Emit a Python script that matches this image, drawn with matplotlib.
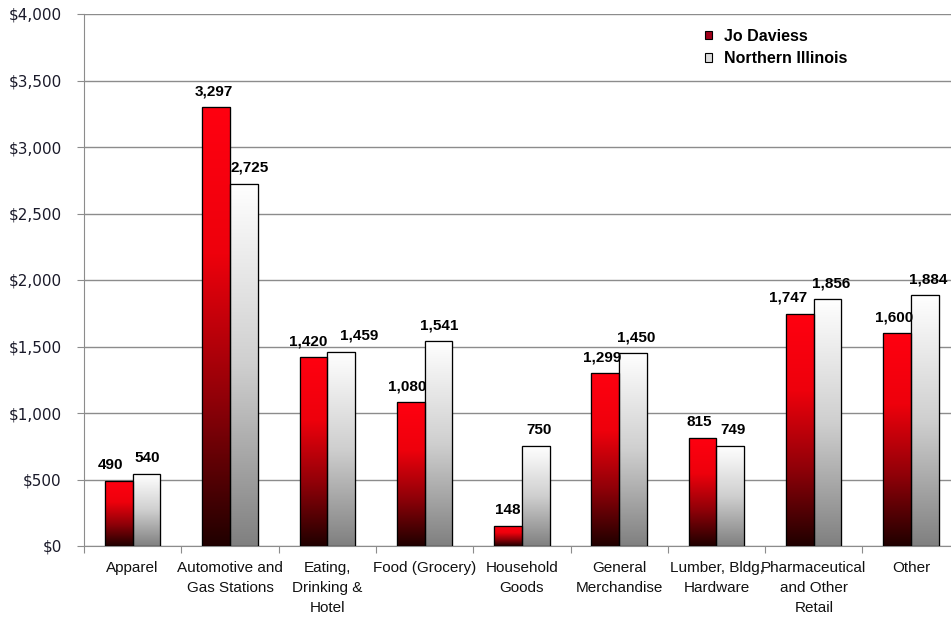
import numpy as np
import matplotlib
matplotlib.use("Agg")
import matplotlib.pyplot as plt
from matplotlib.colors import LinearSegmentedColormap
from matplotlib.ticker import FuncFormatter, FixedLocator

# data
categories = ["Apparel", "Automotive and\nGas Stations", "Eating,\nDrinking &\nHotel",
              "Food (Grocery)", "Household\nGoods", "General\nMerchandise",
              "Lumber, Bldg,\nHardware", "Pharmaceutical\nand Other\nRetail", "Other"]
jo_daviess = [490, 3297, 1420, 1080, 148, 1299, 815, 1747, 1600]
northern_il = [540, 2725, 1459, 1541, 750, 1450, 749, 1856, 1884]

# horizontal nudge of value labels (pixels), like Excel spreads them to avoid overlap
nudge_jo = [-8, -2, -5, -3, 0, -3, -3, -12, -3]
nudge_ni = [1, 6, 18, 1, 3, 3, 3, 4, 3]

fig = plt.figure(figsize=(9.51, 6.17), dpi=100)
ax = fig.add_axes([84 / 951, 1 - 546 / 617, 875.7 / 951, 532 / 617])

x = np.arange(len(categories))
w = 0.285

red_map = LinearSegmentedColormap.from_list("redgrad", ["#200000", "#900008", "#ee000c", "#ff0010"])
grey_map = LinearSegmentedColormap.from_list("greygrad", ["#808080", "#cfcfcf", "#ffffff"])
grad = np.linspace(0, 1, 256).reshape(-1, 1)

bars1 = ax.bar(x - w / 2, jo_daviess, w, facecolor="#d0021b", edgecolor="black", linewidth=0.8,
               label="Jo Daviess", zorder=3)
bars2 = ax.bar(x + w / 2, northern_il, w, facecolor="#e8e8e8", edgecolor="black", linewidth=0.8,
               label="Northern Illinois", zorder=3)

# paint a vertical gradient inside each bar
for bars, cmap in [(bars1, red_map), (bars2, grey_map)]:
    for b in bars:
        x0, h = b.get_x(), b.get_height()
        img = ax.imshow(grad, cmap=cmap, origin="lower", aspect="auto",
                        extent=[x0, x0 + b.get_width(), 0, h], zorder=3.5)
        img.set_clip_path(b)
        ax.add_patch(plt.Rectangle((x0, 0), b.get_width(), h, fill=False,
                                   edgecolor="black", linewidth=0.9, zorder=4))

for bars, vals, nudges in [(bars1, jo_daviess, nudge_jo), (bars2, northern_il, nudge_ni)]:
    for b, v, n in zip(bars, vals, nudges):
        ax.annotate(f"{v:,}", (b.get_x() + b.get_width() / 2, v), xytext=(n, 9),
                    textcoords="offset pixels", ha="center", va="bottom",
                    fontsize=11, fontweight="bold", family="Liberation Sans", zorder=5)

ax.set_xlim(-0.5, len(categories) - 0.5)
ax.set_ylim(0, 4000)
ax.set_yticks(np.arange(0, 4001, 500))
ax.yaxis.set_major_formatter(FuncFormatter(lambda v, p: f"${v:,.0f}"))
ax.grid(axis="y", color="#8c8c8c", linewidth=1.0, zorder=0)

ax.xaxis.set_major_locator(FixedLocator(np.arange(-0.5, len(categories), 1)))
ax.set_xticklabels([])
ax.set_xticks(x, minor=True)
ax.set_xticklabels(categories, minor=True, fontsize=11, family="Liberation Sans",
                   va="top", linespacing=1.55, color="#111111")
ax.tick_params(axis="x", which="minor", length=0, pad=11)
ax.tick_params(axis="x", which="major", length=5, color="#8c8c8c")
ax.tick_params(axis="y", length=5, color="#8c8c8c", labelsize=11, labelcolor="#1a1a2a", pad=11)

for s in ["top", "right"]:
    ax.spines[s].set_visible(False)
ax.spines["left"].set_color("#8c8c8c")
ax.spines["bottom"].set_color("#8c8c8c")

leg = ax.legend(loc="upper left", bbox_to_anchor=(0.709, 0.972), frameon=False,
                borderaxespad=0, borderpad=0,
                handlelength=0.45, handleheight=0.45, handletextpad=0.75, labelspacing=0.45,
                prop={"family": "Liberation Sans", "weight": "bold", "size": 11.5})
leg.legend_handles[0].set_facecolor("#a0001a")
leg.legend_handles[1].set_facecolor("#dddddd")

fig.savefig("out.png", dpi=100)
